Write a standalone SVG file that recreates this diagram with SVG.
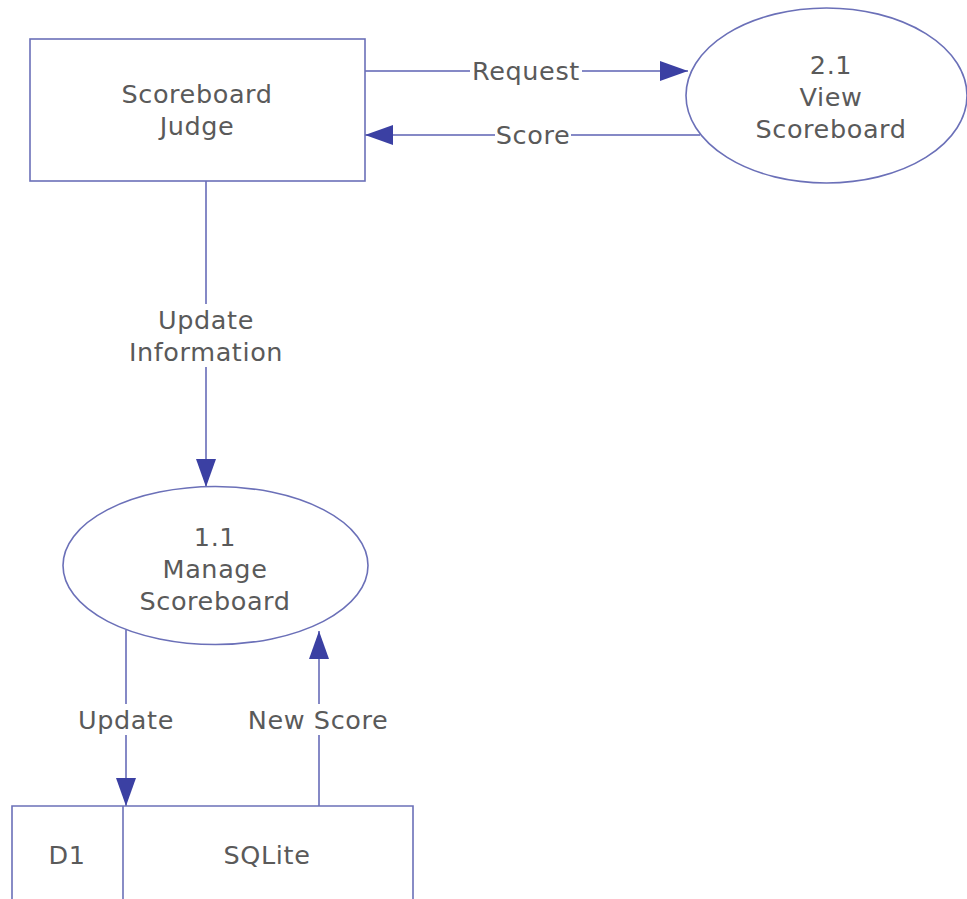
<svg xmlns="http://www.w3.org/2000/svg" width="967" height="899" viewBox="0 0 967 899">
<defs>
<style>
.shape{fill:#fff;stroke:#6b70b8;stroke-width:1.6}
.flow{fill:none;stroke:#8589c6;stroke-width:2}
.t{font-family:"DejaVu Sans","Verdana",sans-serif;font-size:25.5px;letter-spacing:0.6px;fill:#5a5a5a;text-anchor:middle}
.bg{fill:#fff}
</style>
<marker id="ah" viewBox="0 0 28 20" refX="28" refY="10" markerWidth="28" markerHeight="20" markerUnits="userSpaceOnUse" orient="auto">
<path d="M0,0 L28,10 L0,20 z" fill="#3b40a3"/>
</marker>
</defs>
<rect width="967" height="899" fill="#fff"/>
<g id="connectors">
<path class="flow" d="M365,71 L688,71" marker-end="url(#ah)"/>
<path class="flow" d="M700,135 L365,135" marker-end="url(#ah)"/>
<path class="flow" d="M206,181 L206,487" marker-end="url(#ah)"/>
<path class="flow" d="M126,630 L126,806" marker-end="url(#ah)"/>
<path class="flow" d="M319,806 L319,631" marker-end="url(#ah)"/>
<rect class="bg" x="470" y="57" width="112" height="28"/>
<text class="t" x="526" y="80">Request</text>
<rect class="bg" x="495" y="121" width="76" height="28"/>
<text class="t" x="533" y="144">Score</text>
<rect class="bg" x="124" y="304" width="164" height="63"/>
<text class="t" x="206" y="329">Update</text>
<text class="t" x="206" y="361">Information</text>
<rect class="bg" x="76" y="704" width="100" height="31"/>
<text class="t" x="126" y="729">Update</text>
<rect class="bg" x="245" y="704" width="146" height="31"/>
<text class="t" x="318" y="729">New Score</text>
</g>
<g id="judge">
<rect class="shape" x="30" y="39" width="335" height="142"/>
<text class="t" x="197" y="103">Scoreboard</text>
<text class="t" x="197" y="135">Judge</text>
</g>
<g id="view">
<ellipse class="shape" cx="826.5" cy="95.5" rx="140.5" ry="87.5"/>
<text class="t" x="831" y="74">2.1</text>
<text class="t" x="831" y="106">View</text>
<text class="t" x="831" y="138">Scoreboard</text>
</g>
<g id="manage">
<ellipse class="shape" cx="215.5" cy="565.5" rx="152.5" ry="79"/>
<text class="t" x="215" y="546">1.1</text>
<text class="t" x="215" y="578">Manage</text>
<text class="t" x="215" y="610">Scoreboard</text>
</g>
<g id="store">
<path class="shape" d="M12,900 L12,806 L413,806 L413,900" fill="#fff"/>
<path class="shape" d="M123,806 L123,900" fill="none"/>
<text class="t" x="67" y="864">D1</text>
<text class="t" x="267" y="864">SQLite</text>
</g>
</svg>
